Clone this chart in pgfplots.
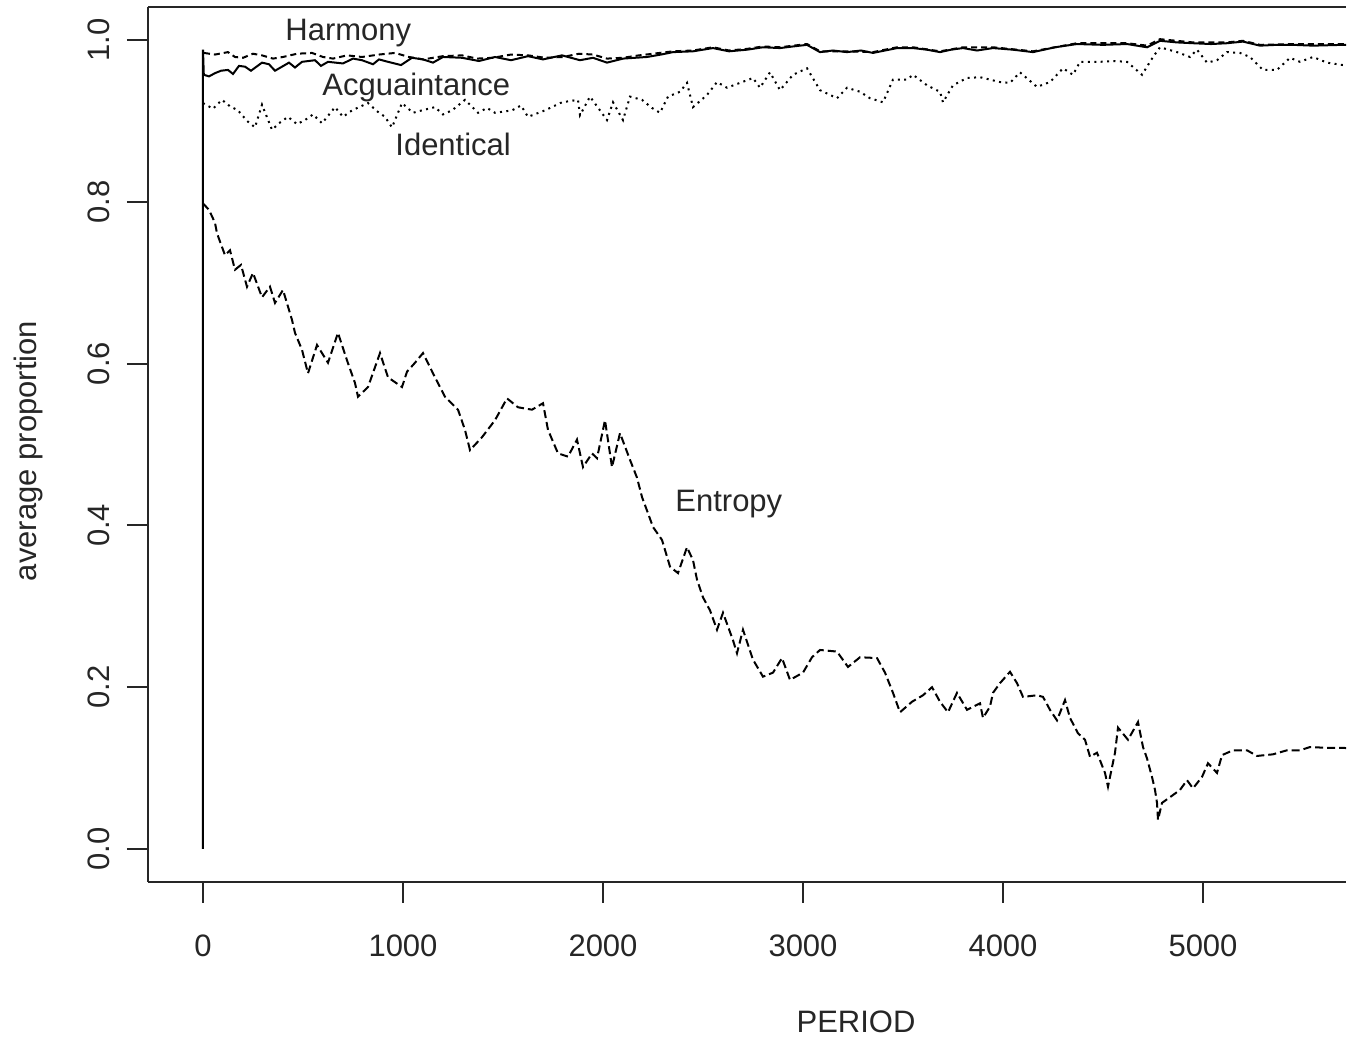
\documentclass[border=0pt]{standalone}
\usepackage{fontspec}
\setmainfont{Liberation Sans}
\usepackage{pgfplots}
\pgfplotsset{compat=1.18}
\newcommand{\fs}{\fontsize{15.5}{18}\selectfont}
\begin{document}
\begin{tikzpicture}
\useasboundingbox (-74pt,-80pt) rectangle (604pt,441pt);
\begin{axis}[
  at={(0,0)}, anchor=south west,
  scale only axis, width=599pt, height=437.5pt,
  xmin=-275, xmax=5715, ymin=-0.0408, ymax=1.0408,
  axis lines=left, axis line style={-, line width=1pt, black!85},
  tick align=outside, major tick length=10.5pt,
  tick style={line width=1pt, black!85},
  xtick={0,1000,2000,3000,4000,5000},
  ytick={0,0.2,0.4,0.6,0.8,1.0},
  yticklabels={0.0,0.2,0.4,0.6,0.8,1.0},
  scaled ticks=false,
  /pgf/number format/1000 sep={},
  /pgf/number format/assume math mode=true,
  xticklabel style={font=\fs, black!85},
  xticklabel shift=12.5pt,
  yticklabel style={font=\fs, black!85, rotate=90, anchor=south},
  yticklabel shift=5pt,
  xlabel={PERIOD}, ylabel={average proportion},
  xlabel style={font=\fs, black!85, at={(axis description cs:0.591,-0.16)}, anchor=center},
  ylabel style={font=\fs, black!85, at={(axis description cs:-0.1,0.4926)}, anchor=center, rotate=0},
  clip=true,
]
% Acquaintance (solid)
\addplot[black, line width=1pt] coordinates {
(0,0) (0,0.988) (4,0.957) (30,0.955) (60,0.959) (90,0.962) (125,0.963) (150,0.958) (180,0.968) (210,0.967)
(240,0.962) (295,0.972) (330,0.970) (360,0.962) (395,0.967) (430,0.972) (460,0.966) (495,0.973)
(560,0.975) (590,0.968) (625,0.973) (700,0.971) (750,0.977) (795,0.975) (850,0.970) (880,0.976)
(925,0.973) (990,0.969) (1045,0.978) (1100,0.976) (1150,0.972) (1200,0.979) (1295,0.978) (1380,0.974)
(1460,0.979) (1540,0.975) (1625,0.980) (1700,0.976) (1795,0.981) (1885,0.975) (1950,0.978) (2020,0.972)
(2100,0.977) (2220,0.979) (2290,0.982) (2350,0.985) (2450,0.986) (2550,0.990) (2630,0.986) (2720,0.988)
(2800,0.991) (2885,0.990) (2950,0.992) (3020,0.994) (3085,0.985) (3150,0.987) (3220,0.985) (3290,0.987)
(3350,0.984) (3470,0.990) (3550,0.990) (3620,0.988) (3685,0.985) (3740,0.988) (3800,0.990) (3870,0.987)
(3950,0.990) (4050,0.988) (4150,0.985) (4260,0.991) (4370,0.995) (4500,0.994) (4620,0.995) (4720,0.991)
(4785,0.999) (4870,0.997) (4950,0.996) (5040,0.995) (5120,0.996) (5200,0.998) (5285,0.993) (5370,0.994)
(5450,0.994) (5550,0.993) (5700,0.994) (5760,0.994)
};
% Harmony (short dashes)
\addplot[black, line width=1pt, dash pattern=on 3pt off 2pt] coordinates {
(5,0.984) (60,0.982) (125,0.985) (160,0.979) (200,0.978) (250,0.983) (295,0.981) (350,0.977) (400,0.979)
(470,0.983) (545,0.984) (600,0.979) (650,0.977) (720,0.981) (795,0.979) (880,0.982) (960,0.984)
(1030,0.979) (1100,0.976) (1200,0.980) (1295,0.981) (1370,0.977) (1450,0.978) (1540,0.982) (1625,0.981)
(1710,0.978) (1800,0.979) (1880,0.983) (1950,0.982) (2020,0.977) (2100,0.978) (2180,0.981) (2250,0.983)
(2350,0.986) (2450,0.987) (2550,0.991) (2630,0.987) (2720,0.989) (2800,0.992) (2885,0.991) (3020,0.995)
(3085,0.986) (3220,0.986) (3350,0.985) (3470,0.991) (3550,0.991) (3685,0.986) (3800,0.991) (3950,0.991)
(4150,0.986) (4370,0.996) (4620,0.996) (4720,0.993) (4785,1.001) (4950,0.997) (5120,0.997) (5200,0.999)
(5285,0.994) (5450,0.995) (5760,0.995)
};
% Identical (dotted)
\addplot[black, line width=1pt, dash pattern=on 1pt off 2.2pt] coordinates {
(0,0.922) (50,0.915) (95,0.926) (135,0.918) (175,0.913) (220,0.900) (260,0.892) (295,0.920) (345,0.889)
(385,0.898) (425,0.905) (470,0.896) (510,0.901) (550,0.908) (595,0.897) (660,0.917) (700,0.905)
(745,0.913) (825,0.922) (870,0.912) (910,0.905) (945,0.892) (995,0.922) (1050,0.910) (1095,0.913)
(1160,0.917) (1200,0.908) (1245,0.913) (1310,0.926) (1375,0.910) (1420,0.916) (1460,0.910) (1545,0.913)
(1590,0.919) (1625,0.905) (1710,0.913) (1795,0.923) (1875,0.926) (1885,0.907) (1935,0.930) (2020,0.901)
(2050,0.923) (2100,0.901) (2135,0.930) (2195,0.926) (2245,0.916) (2285,0.910) (2325,0.930) (2385,0.936)
(2420,0.947) (2450,0.917) (2520,0.932) (2570,0.948) (2620,0.941) (2685,0.947) (2750,0.953) (2785,0.941)
(2835,0.960) (2885,0.938) (2950,0.957) (3020,0.965) (3085,0.938) (3170,0.928) (3220,0.941) (3285,0.936)
(3335,0.928) (3400,0.923) (3450,0.951) (3520,0.951) (3550,0.957) (3620,0.944) (3685,0.936) (3700,0.923)
(3750,0.944) (3820,0.953) (3885,0.954) (3985,0.948) (4035,0.947) (4085,0.960) (4170,0.942) (4235,0.948)
(4300,0.965) (4350,0.957) (4385,0.973) (4485,0.973) (4550,0.974) (4620,0.973) (4695,0.957) (4750,0.979)
(4785,0.991) (4870,0.985) (4935,0.979) (4970,0.988) (5020,0.972) (5070,0.975) (5120,0.985) (5185,0.984)
(5235,0.979) (5300,0.963) (5370,0.963) (5435,0.978) (5485,0.973) (5550,0.979) (5620,0.972) (5700,0.969)
(5760,0.968)
};
% Entropy (dashed)
\addplot[black, line width=1pt, dash pattern=on 4pt off 2pt] coordinates {
(0,0.798) (30,0.790) (60,0.774) (70,0.761) (110,0.734) (135,0.740) (160,0.716) (190,0.722) (220,0.695)
(250,0.712) (295,0.682) (335,0.695) (360,0.675) (400,0.691) (445,0.654) (460,0.638) (495,0.617)
(525,0.588) (570,0.623) (625,0.601) (675,0.638) (720,0.604) (760,0.576) (775,0.559) (825,0.571)
(885,0.613) (925,0.583) (995,0.571) (1020,0.590) (1060,0.601) (1100,0.613) (1160,0.583) (1210,0.559)
(1275,0.543) (1310,0.518) (1335,0.493) (1395,0.509) (1460,0.530) (1520,0.557) (1575,0.546) (1645,0.543)
(1700,0.551) (1725,0.518) (1775,0.489) (1825,0.485) (1870,0.506) (1900,0.472) (1945,0.489) (1970,0.483)
(2010,0.530) (2045,0.472) (2085,0.514) (2135,0.481) (2170,0.459) (2195,0.435) (2225,0.415) (2250,0.398)
(2295,0.382) (2335,0.349) (2375,0.341) (2420,0.373) (2450,0.357) (2470,0.333) (2500,0.311) (2535,0.295)
(2570,0.271) (2600,0.292) (2650,0.258) (2670,0.242) (2700,0.271) (2750,0.234) (2800,0.213) (2850,0.218)
(2895,0.236) (2935,0.209) (3000,0.218) (3045,0.237) (3085,0.246) (3170,0.244) (3225,0.225) (3285,0.237)
(3370,0.236) (3410,0.218) (3450,0.193) (3485,0.169) (3545,0.182) (3600,0.190) (3645,0.200) (3685,0.182)
(3725,0.169) (3770,0.193) (3820,0.172) (3885,0.180) (3900,0.162) (3935,0.176) (3950,0.193) (3985,0.205)
(4035,0.219) (4070,0.205) (4100,0.188) (4170,0.190) (4200,0.188) (4235,0.172) (4270,0.159) (4310,0.184)
(4335,0.162) (4375,0.143) (4410,0.135) (4435,0.114) (4470,0.119) (4510,0.094) (4525,0.077) (4560,0.119)
(4575,0.150) (4625,0.135) (4675,0.157) (4700,0.126) (4720,0.112) (4745,0.089) (4760,0.073) (4770,0.057)
(4775,0.036) (4795,0.057) (4835,0.064) (4885,0.073) (4920,0.085) (4950,0.075) (4995,0.089) (5025,0.106)
(5070,0.094) (5095,0.116) (5150,0.122) (5220,0.122) (5270,0.115) (5350,0.117) (5420,0.122) (5485,0.122)
(5535,0.126) (5620,0.125) (5700,0.125) (5760,0.124)
};
\draw[line width=1pt, black!85] (rel axis cs:0,1) -- (rel axis cs:1,1);
\node[font=\fs, black!85, anchor=base west, inner sep=0pt] at (axis cs:410,0.999) {Harmony};
\node[font=\fs, black!85, anchor=base west, inner sep=0pt] at (axis cs:595,0.932) {Acguaintance};
\node[font=\fs, black!85, anchor=base west, inner sep=0pt] at (axis cs:960,0.857) {Identical};
\node[font=\fs, black!85, anchor=base west, inner sep=0pt] at (axis cs:2360,0.4166) {Entropy};
\end{axis}
\end{tikzpicture}
\end{document}
